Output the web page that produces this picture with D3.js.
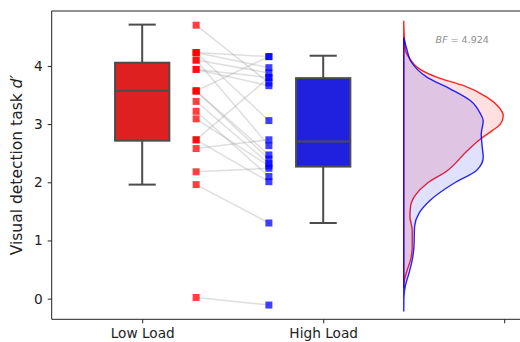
<!DOCTYPE html>
<html>
<head>
<meta charset="utf-8">
<script src="https://cdn.jsdelivr.net/npm/d3@7"></script>
<style>
  body { margin: 0; background: #fff; }
  svg { display: block; font-family: "DejaVu Sans", sans-serif; }
</style>
</head>
<body>
<svg id="chart" width="520" height="342"></svg>
<script>
// --- data ---
const categories = ['Low Load', 'High Load', ''];

// paired subjects: low-load d' and high-load d'
const lowLoad  = [4.70, 4.23, 4.23, 4.23, 4.10, 4.10, 3.94, 3.94, 3.57, 3.57,
                  3.57, 3.39, 3.22, 3.09, 2.73, 2.73, 2.58, 2.18, 1.96, 0.02];
const highLoad = [3.71, 4.16, 3.97, 3.06, 3.88, 2.63, 3.80, 3.66, 4.16, 2.47,
                  2.40, 2.32, 2.10, 2.28, 3.80, 2.01, 2.73, 2.24, 1.30, -0.11];

// box stats per condition [low, high]
const boxWhiskLo = [1.96, 1.30];
const boxQ1      = [2.715, 2.27];
const boxMedian  = [3.574, 2.70];
const boxQ3      = [4.055, 3.79];
const boxWhiskHi = [4.71, 4.175];

// half-violin densities (d' value, relative density)
const kdeLowY  = [4.777, 4.531, 4.261, 4.101, 3.976, 3.804, 3.660, 3.460, 3.289, 3.144, 3.002, 2.887,
                  2.744, 2.543, 2.199, 1.983, 1.782, 1.581, 1.409, 1.180, 0.893, 0.665, 0.493, 0.321, 0.184];
const kdeLowD  = [0, 0.005, 0.018, 0.07, 0.135, 0.335, 0.60, 0.835, 0.952, 0.995, 0.968, 0.885,
                  0.768, 0.635, 0.435, 0.235, 0.118, 0.068, 0.062, 0.085, 0.085, 0.068, 0.035, 0.008, 0];
const kdeHighY = [4.491, 4.261, 4.089, 3.804, 3.603, 3.402, 3.174, 3.058, 2.830, 2.601, 2.430, 2.206,
                  1.983, 1.696, 1.467, 1.237, 0.893, 0.665, 0.436, 0.235, 0.034, -0.223];
const kdeHighD = [0, 0.035, 0.068, 0.235, 0.468, 0.668, 0.768, 0.795, 0.775, 0.785, 0.795, 0.73,
                  0.502, 0.268, 0.152, 0.108, 0.102, 0.085, 0.052, 0.018, 0.002, 0];

const bfText = '4.924';

// --- layout ---
const svg = d3.select('#chart');
const plot = { left: 51.7, top: 11, bottom: 319.3 };

const x = d3.scaleLinear().domain([-0.5, 2.5]).range([plot.left, plot.left + 543]);
const y = d3.scaleLinear().domain([-0.355, 4.944]).range([plot.bottom, plot.top]);

const RED = '#ff0000', BLUE = '#0000ff';
const BOX_FILL = ['#df2020', '#2020df'];
const EDGE = '#4c4c4c';
const BOX_W = 0.30;
const PT_X = [0.298, 0.70];   // strip positions
const KDE_X = 1.445;          // baseline of the half violin
const densW = d3.scaleLinear().domain([0, 1]).range([0, 100]);

const g = svg.append('g');

// paired lines
g.selectAll('.pair')
  .data(d3.range(lowLoad.length))
  .enter()
  .append('line')
  .attr('class', 'pair')
  .attr('x1', x(PT_X[0]))
  .attr('x2', x(PT_X[1]))
  .attr('y1', i => y(lowLoad[i]))
  .attr('y2', i => y(highLoad[i]))
  .attr('stroke', '#808080')
  .attr('stroke-width', 1.5)
  .attr('opacity', 0.25);

// square markers
const SQ = 7;
[lowLoad, highLoad].forEach((vals, k) => {
  g.selectAll('.pt' + k)
    .data(vals)
    .enter()
    .append('rect')
    .attr('x', x(PT_X[k]) - SQ / 2)
    .attr('y', d => y(d) - SQ / 2)
    .attr('width', SQ)
    .attr('height', SQ)
    .attr('fill', k === 0 ? RED : BLUE)
    .attr('opacity', 0.75);
});

// boxes
[0, 1].forEach(k => {
  const cx = x(k);
  const hw = (x(BOX_W) - x(0)) / 2;
  const bg = g.append('g').attr('stroke', EDGE).attr('stroke-width', 2);
  bg.append('line').attr('x1', cx).attr('x2', cx).attr('y1', y(boxQ3[k])).attr('y2', y(boxWhiskHi[k]));
  bg.append('line').attr('x1', cx).attr('x2', cx).attr('y1', y(boxQ1[k])).attr('y2', y(boxWhiskLo[k]));
  bg.append('line').attr('x1', cx - hw / 2).attr('x2', cx + hw / 2).attr('y1', y(boxWhiskHi[k])).attr('y2', y(boxWhiskHi[k]));
  bg.append('line').attr('x1', cx - hw / 2).attr('x2', cx + hw / 2).attr('y1', y(boxWhiskLo[k])).attr('y2', y(boxWhiskLo[k]));
  bg.append('rect')
    .attr('x', cx - hw).attr('width', 2 * hw)
    .attr('y', y(boxQ3[k])).attr('height', y(boxQ1[k]) - y(boxQ3[k]))
    .attr('fill', BOX_FILL[k]);
  bg.append('line').attr('x1', cx - hw).attr('x2', cx + hw).attr('y1', y(boxMedian[k])).attr('y2', y(boxMedian[k]));
});

// half violins
const x0 = x(KDE_X);
[[kdeLowY, kdeLowD, RED], [kdeHighY, kdeHighD, BLUE]].forEach(([ys, ds, col]) => {
  const pts = ys.map((v, i) => ({ v, d: ds[i] }));
  const area = d3.area()
    .y(d => y(d.v))
    .x0(x0)
    .x1(d => x0 + densW(d.d))
    .curve(d3.curveMonotoneY);
  g.append('path')
    .datum(pts)
    .attr('d', area)
    .attr('fill', col)
    .attr('fill-opacity', 0.12)
    .attr('stroke', col)
    .attr('stroke-width', 1.4)
    .attr('stroke-opacity', 0.85);
});

// BF annotation
const bf = svg.append('text')
  .attr('x', x(1.768))
  .attr('y', 43)
  .attr('text-anchor', 'middle')
  .attr('font-size', 9.5)
  .attr('fill', '#8c8c8c');
bf.append('tspan').attr('font-style', 'italic').text('BF');
bf.append('tspan').text(' = ' + bfText);

// axes
const yAxis = d3.axisLeft(y).tickValues([0, 1, 2, 3, 4]).tickSize(4).tickPadding(5).tickFormat(d3.format('d'));
const xAxis = d3.axisBottom(x).tickValues([0, 1, 2]).tickSize(4).tickPadding(5).tickFormat(i => categories[i]);

const ya = svg.append('g').attr('transform', `translate(${plot.left},0)`).call(yAxis);
const xa = svg.append('g').attr('transform', `translate(0,${plot.bottom})`).call(xAxis);
[ya, xa].forEach(a => {
  a.select('.domain').remove();
  a.selectAll('line').attr('stroke', '#222');
  a.selectAll('text').attr('font-size', 13.7).attr('fill', '#222').attr('font-family', '"DejaVu Sans", sans-serif');
});

// spines
svg.append('line').attr('x1', plot.left).attr('x2', 520).attr('y1', plot.top).attr('y2', plot.top).attr('stroke', '#222');
svg.append('line').attr('x1', plot.left).attr('x2', 520).attr('y1', plot.bottom).attr('y2', plot.bottom).attr('stroke', '#222');
svg.append('line').attr('x1', plot.left).attr('x2', plot.left).attr('y1', plot.top).attr('y2', plot.bottom).attr('stroke', '#222');

// y label
const yl = svg.append('text')
  .attr('transform', `translate(22,${(plot.top + plot.bottom) / 2}) rotate(-90)`)
  .attr('text-anchor', 'middle')
  .attr('font-size', 15.5)
  .attr('fill', '#222');
yl.append('tspan').text('Visual detection task ');
yl.append('tspan').attr('font-style', 'italic').text('d′');
</script>
</body>
</html>
